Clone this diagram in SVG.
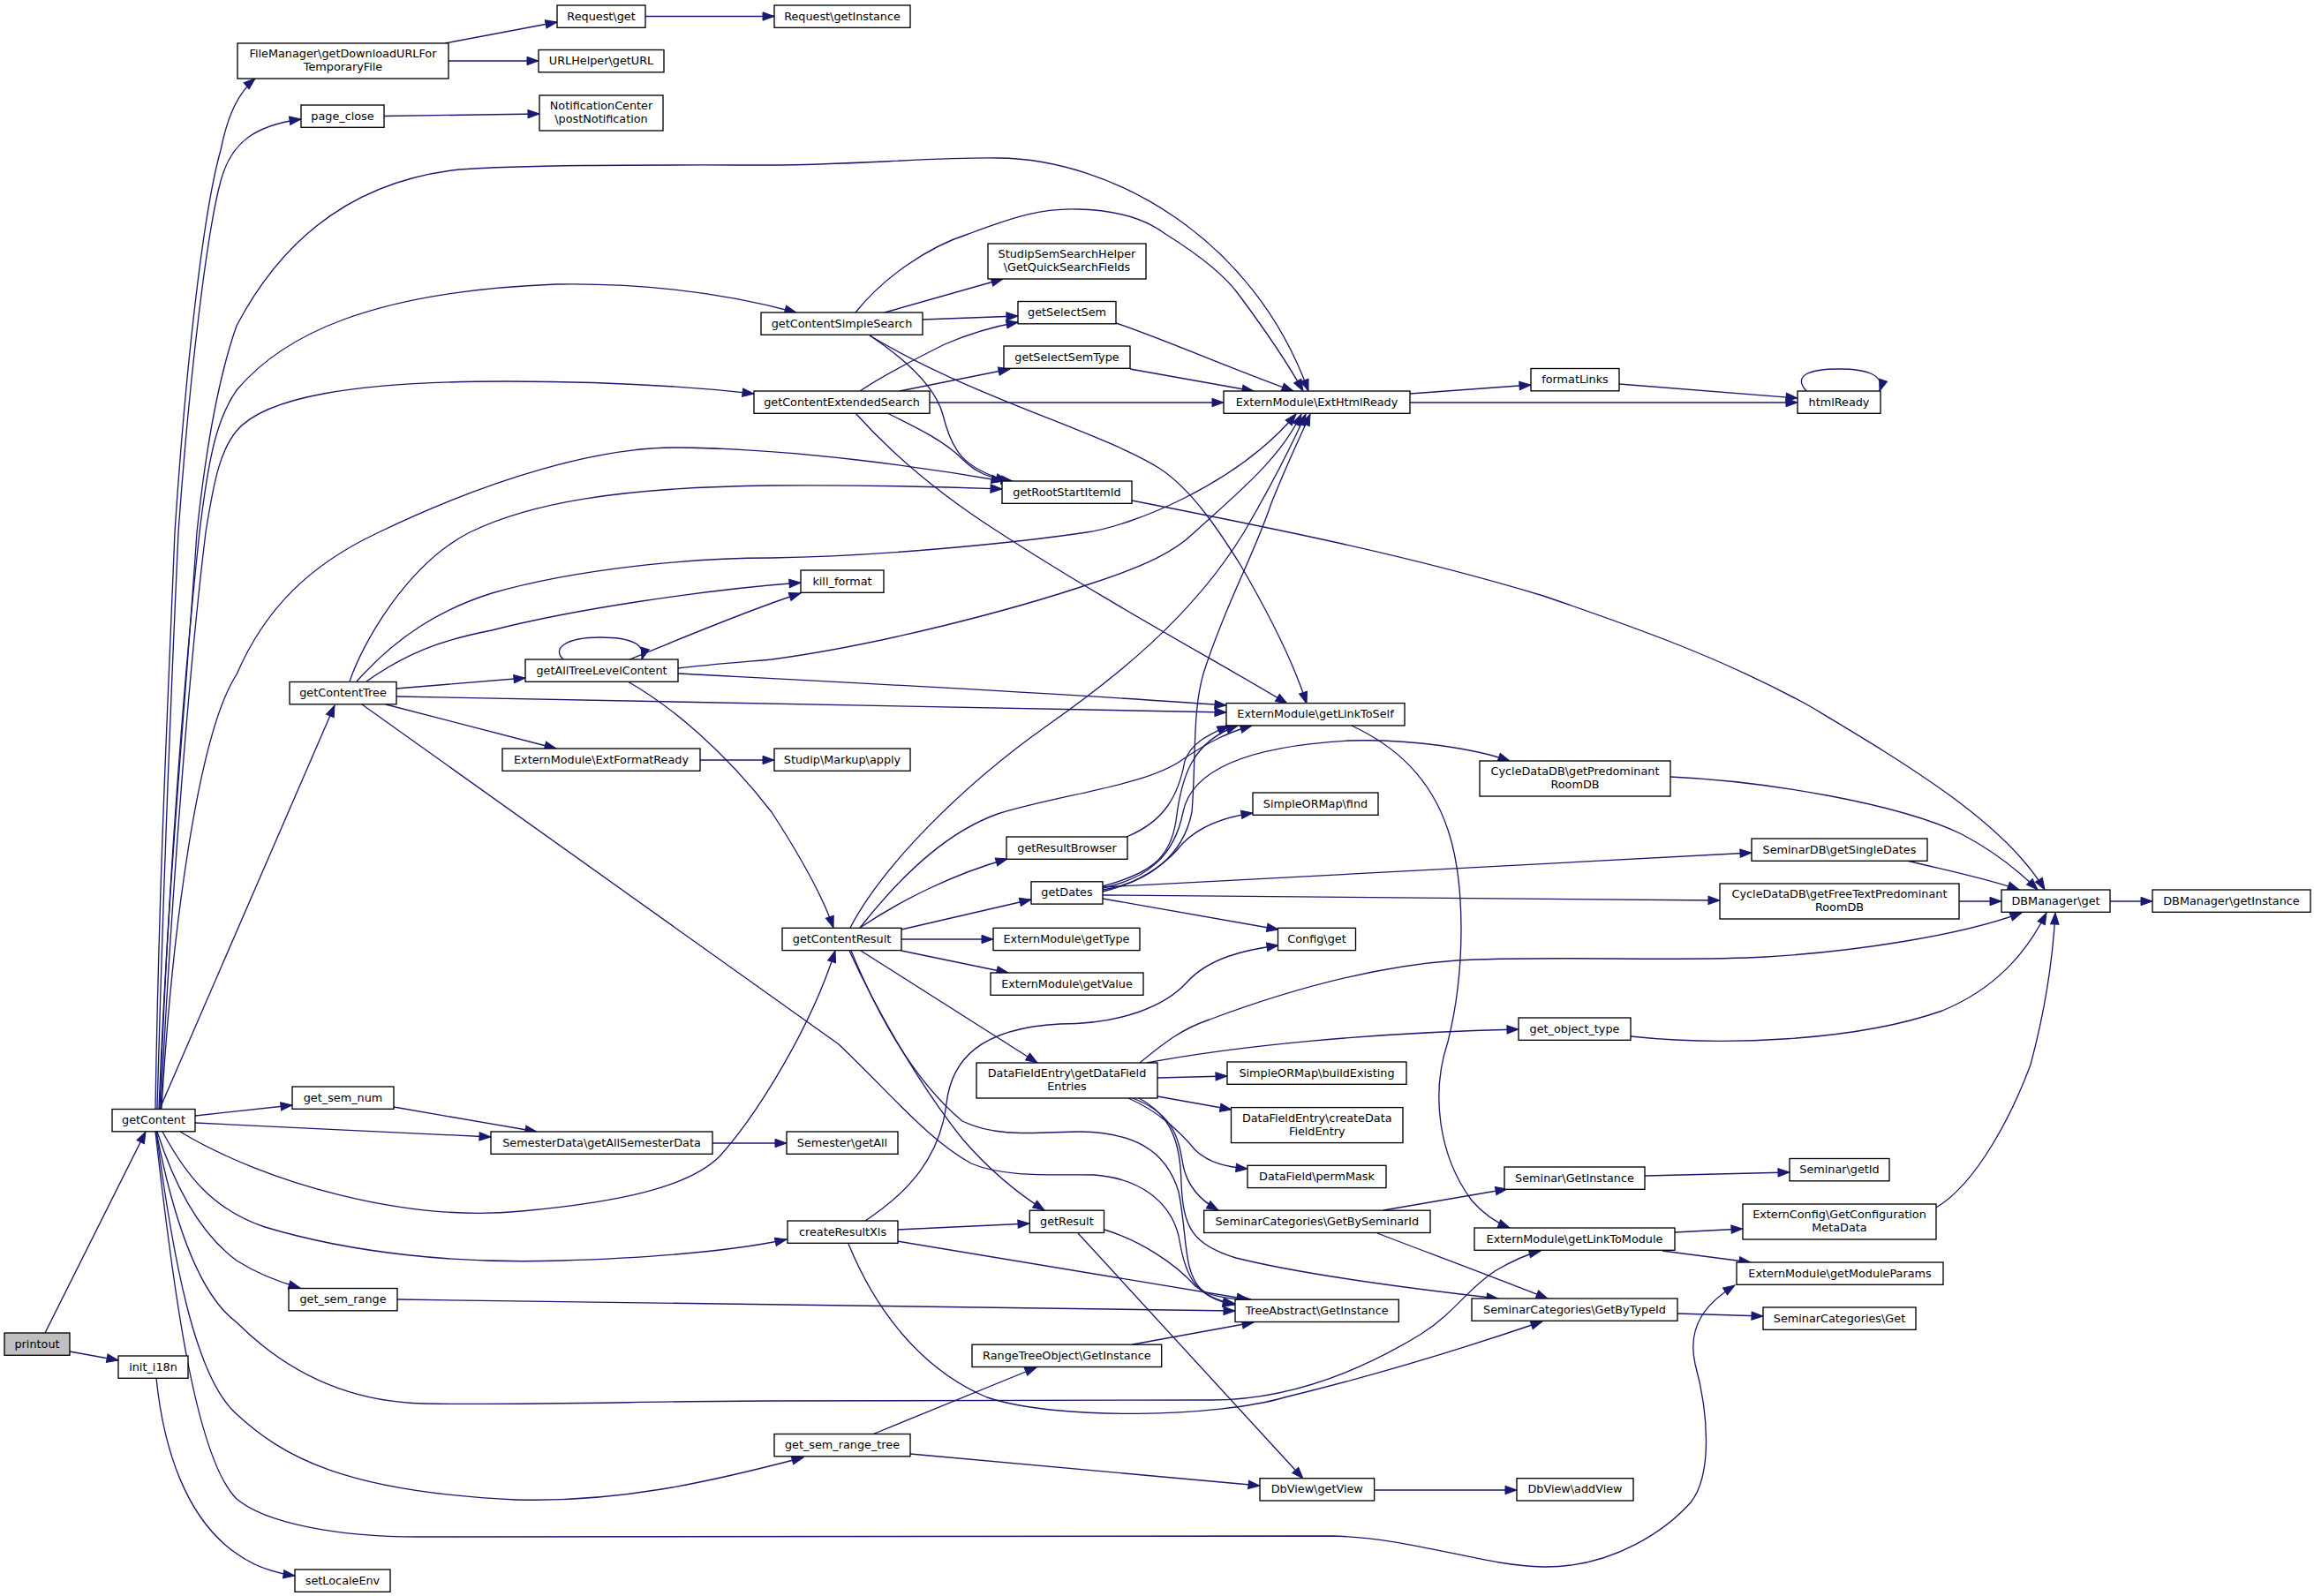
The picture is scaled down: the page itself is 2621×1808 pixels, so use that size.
<svg xmlns="http://www.w3.org/2000/svg" width="2621" height="1808" viewBox="0 0 2621 1808">
<style>
.node rect{fill:#fff;stroke:#000;stroke-width:1.33}
.node text{font-family:"DejaVu Sans","Liberation Sans",sans-serif;font-size:12.8px;text-anchor:middle;fill:#000}
.edge path{fill:none;stroke:#191970;stroke-width:1.33;marker-end:url(#arr)}
#n_printout rect{fill:#bfbfbf}
</style>
<defs>
<marker id="arr" markerUnits="userSpaceOnUse" markerWidth="14" markerHeight="10" refX="13" refY="4.7" orient="auto" viewBox="0 0 14 10" overflow="visible">
<path d="M0,0 L13,4.7 L0,9.4 z" fill="#191970" stroke="#191970" stroke-width="1"/>
</marker>
</defs>
<rect x="0" y="0" width="2621" height="1808" fill="#fff"/>
<g id="edges" class="edge">
<path d="M51,1510 L165,1282"/>
<path d="M79,1531 L134,1541"/>
<path d="M177,1561 C185,1640 210,1720 268,1760 C290,1776 312,1782 334,1785"/>
<path d="M176,1256 C180,1000 190,800 198,603 C210,420 230,240 250,170 C258,130 270,105 289,89"/>
<path d="M178,1256 C185,1000 193,800 202,603 C215,420 235,260 250,205 C262,160 290,142 341,135"/>
<path d="M180,1256 C190,1000 210,800 223,603 C235,490 250,420 268,369 C320,270 400,205 520,192 C600,186 760,187 874,187 C960,187 1060,178 1130,179 C1260,180 1420,270 1482,443"/>
<path d="M181,1256 C190,1000 210,750 226,603 C236,520 245,475 268,442 C320,380 420,330 630,322 C760,320 850,340 902,354"/>
<path d="M182,1256 C195,1000 215,750 233,603 C243,540 250,510 268,488 C300,450 400,432 574,432 C700,432 800,440 854,446"/>
<path d="M183,1256 C195,1050 225,830 268,764 C300,690 350,640 429,603 C560,540 680,507 764,507 C900,508 1050,530 1136,545"/>
<path d="M181,1256 L379,799"/>
<path d="M221,1264 L331,1252"/>
<path d="M221,1272 L556,1288"/>
<path d="M204,1282 C300,1340 460,1385 591,1372 C700,1362 780,1345 815,1310 C860,1260 920,1160 946,1077"/>
<path d="M184,1282 C210,1330 240,1370 300,1390 C400,1420 520,1432 636,1428 C760,1424 840,1415 891,1404"/>
<path d="M178,1282 C200,1350 230,1400 268,1428 C290,1442 315,1452 340,1459"/>
<path d="M177,1282 C200,1400 230,1470 268,1498 C320,1550 390,1588 480,1590 C600,1592 750,1587 874,1587 L1371,1586 C1450,1586 1530,1560 1610,1511 C1650,1485 1660,1462 1693,1440 C1710,1430 1725,1422 1745,1417"/>
<path d="M177,1282 C195,1420 220,1560 268,1602 C320,1650 390,1690 585,1699 C700,1702 800,1680 910,1651"/>
<path d="M176,1282 C195,1450 220,1650 268,1698 C300,1725 380,1741 474,1741 L1509,1740 C1600,1742 1680,1774 1748,1775 C1830,1776 1890,1730 1915,1702 C1940,1670 1935,1600 1920,1545 C1910,1500 1935,1475 1965,1456"/>
<path d="M504,49 L631,25"/>
<path d="M508,69 L610,69"/>
<path d="M435,131.5 L611,129"/>
<path d="M731,18.5 L877,18.5"/>
<path d="M969,354 C1000,315 1050,280 1097,265 C1150,245 1180,236 1220,237 C1270,238 1300,250 1320,265 C1360,290 1390,315 1404,335 C1430,370 1455,405 1476,443"/>
<path d="M1002,354 L1136,316"/>
<path d="M1045,362 L1153,358"/>
<path d="M985,380 C1030,410 1060,440 1068,470 C1078,510 1090,530 1141,545"/>
<path d="M985,380 C1100,450 1250,490 1314,531 C1350,555 1380,600 1405,640 C1440,700 1465,750 1480,797"/>
<path d="M974,443 C1000,425 1040,405 1070,390 C1100,377 1125,370 1153,365"/>
<path d="M1019,443 L1144,418"/>
<path d="M1053,456 L1386,456"/>
<path d="M1005,468 C1040,485 1070,500 1090,520 C1105,535 1120,542 1147,545"/>
<path d="M969,468 C1020,525 1080,570 1130,602 C1250,680 1380,750 1458,797"/>
<path d="M1264,366 C1320,385 1400,420 1465,443"/>
<path d="M1280,418 L1420,443"/>
<path d="M1282,567 C1450,600 1600,630 1748,675 C1850,710 1950,745 2050,800 C2150,860 2270,930 2316,1008"/>
<path d="M1597,446 L1734,436"/>
<path d="M1597,456 L2036,456"/>
<path d="M1834,435 L2036,451"/>
<path d="M2046,443 C2030,425 2050,418 2083,418 C2115,418 2135,425 2129,443"/>
<path d="M396,772 C410,730 460,640 532,603 C600,570 700,552 874,550 C1000,549 1080,552 1135,554"/>
<path d="M404,772 C450,720 500,690 557,672 C650,645 780,632 874,632 C1000,630 1150,615 1231,603 C1280,596 1400,550 1468,469"/>
<path d="M415,772 C460,740 500,725 557,714 C650,690 800,668 907,660"/>
<path d="M449,780 L595,768"/>
<path d="M449,789 L1389,807"/>
<path d="M437,798 L630,848"/>
<path d="M410,798 L950,1183 C1010,1240 1050,1290 1100,1318 C1140,1335 1200,1330 1240,1331 C1290,1335 1325,1360 1335,1400 C1342,1440 1350,1470 1398,1478"/>
<path d="M638,747 C625,735 640,722 680,722 C715,722 732,730 727,747"/>
<path d="M713,747 C780,720 850,690 907,672"/>
<path d="M768,757 C800,753 840,750 874,747 C1000,730 1150,690 1236,661 C1300,640 1330,625 1353,603 C1400,560 1450,520 1474,469"/>
<path d="M768,763 C900,770 1200,785 1389,799"/>
<path d="M711,772 C760,800 820,850 874,920 C900,960 930,1010 944,1051"/>
<path d="M793,861 L877,861"/>
<path d="M963,1051 C1000,980 1090,890 1186,822 C1260,770 1350,700 1409,603 C1440,550 1465,500 1479,469"/>
<path d="M1249,1008 C1300,1000 1340,970 1350,920 C1355,860 1350,800 1365,757 C1390,680 1420,630 1440,570 C1460,520 1475,490 1484,469"/>
<path d="M974,1051 C1030,980 1080,940 1130,922 C1200,900 1300,890 1340,860 C1370,840 1390,830 1418,822"/>
<path d="M1276,948 C1320,930 1335,900 1342,862 C1350,840 1370,832 1392,822"/>
<path d="M1249,1004 C1300,990 1325,975 1332,930 C1338,880 1350,840 1402,822"/>
<path d="M974,1051 C1020,1020 1080,990 1141,973"/>
<path d="M1021,1053 L1168,1019"/>
<path d="M1021,1064 L1125,1064"/>
<path d="M1021,1077 L1142,1102"/>
<path d="M975,1077 L1175,1204"/>
<path d="M962,1077 C1000,1160 1050,1240 1090,1290 C1120,1325 1150,1350 1183,1371"/>
<path d="M964,1077 C990,1140 1030,1220 1090,1270 C1130,1290 1180,1282 1224,1282 C1280,1283 1320,1300 1335,1350 C1345,1400 1340,1440 1360,1460 C1370,1470 1385,1475 1399,1477"/>
<path d="M1249,1010 C1290,1000 1320,980 1340,955 C1360,935 1390,925 1419,921"/>
<path d="M1249,1006 C1300,995 1330,970 1340,920 C1350,870 1420,845 1528,839 C1600,837 1670,848 1710,862"/>
<path d="M1249,1005 L1984,966"/>
<path d="M1249,1014 L1948,1020"/>
<path d="M1249,1018 L1448,1053"/>
<path d="M1291,1204 C1320,1180 1340,1165 1370,1155 C1450,1125 1550,1095 1650,1088 C1750,1082 1900,1090 2000,1084 C2100,1078 2220,1060 2290,1034"/>
<path d="M1299,1204 C1400,1185 1550,1170 1720,1166"/>
<path d="M1311,1221 L1390,1219"/>
<path d="M1311,1242 L1395,1257"/>
<path d="M1278,1244 C1310,1258 1335,1280 1354,1303 C1370,1318 1390,1322 1413,1324"/>
<path d="M1283,1244 C1330,1262 1335,1290 1340,1320 C1345,1345 1360,1360 1380,1371"/>
<path d="M1290,1244 C1330,1265 1337,1300 1338,1340 C1340,1390 1350,1410 1400,1425 C1480,1445 1600,1460 1697,1471"/>
<path d="M980,1383 C1030,1350 1065,1310 1072,1250 C1078,1200 1110,1165 1200,1160 C1270,1160 1320,1140 1345,1112 C1370,1085 1410,1076 1448,1071"/>
<path d="M1016,1393 L1166,1386"/>
<path d="M1016,1406 L1414,1472"/>
<path d="M961,1409 C990,1480 1040,1550 1118,1583 C1200,1610 1380,1605 1455,1583 C1550,1560 1650,1530 1747,1497"/>
<path d="M1251,1393 C1290,1405 1330,1430 1354,1457 C1370,1470 1395,1472 1417,1472"/>
<path d="M1221,1397 L1476,1675"/>
<path d="M1283,1523 L1420,1498"/>
<path d="M988,1625 L1174,1549"/>
<path d="M1031,1647 L1427,1683"/>
<path d="M1556,1688 L1718,1688"/>
<path d="M450,1472 L1399,1485"/>
<path d="M446,1254 L608,1282"/>
<path d="M807,1295 L891,1295"/>
<path d="M1531,822 C1580,845 1620,880 1640,940 C1660,1000 1660,1100 1640,1180 C1620,1240 1630,1310 1667,1360 C1680,1375 1695,1385 1710,1391"/>
<path d="M1567,1371 L1707,1347"/>
<path d="M1560,1397 C1620,1420 1700,1450 1753,1471"/>
<path d="M1897,1396 L1974,1392"/>
<path d="M1883,1417 L1983,1430"/>
<path d="M1900,1488 L1997,1491"/>
<path d="M1863,1332 L2027,1328"/>
<path d="M1847,1174 C1950,1185 2100,1180 2200,1145 C2260,1120 2295,1080 2318,1034"/>
<path d="M2193,1368 C2240,1340 2280,1260 2300,1206 C2315,1150 2325,1090 2328,1034"/>
<path d="M1892,880 C2000,885 2150,910 2222,945 C2260,965 2290,990 2308,1008"/>
<path d="M2160,975 C2200,985 2250,995 2287,1008"/>
<path d="M2219,1021 L2267,1021"/>
<path d="M2390,1021 L2438,1021"/>
</g>
<g id="n_printout" class="node"><rect x="5" y="1510" width="74" height="25.3"/><text x="42" y="1526.6">printout</text></g>
<g id="n_getContent" class="node"><rect x="127" y="1256.5" width="94" height="25.3"/><text x="174" y="1273.1">getContent</text></g>
<g id="n_init_i18n" class="node"><rect x="134" y="1536" width="79" height="25.3"/><text x="173.5" y="1552.6">init_i18n</text></g>
<g id="n_setLocaleEnv" class="node"><rect x="334" y="1778" width="108" height="25.3"/><text x="388" y="1794.6">setLocaleEnv</text></g>
<g id="n_FileManager" class="node"><rect x="269" y="49" width="239" height="40"/><text x="388.5" y="65">FileManager\getDownloadURLFor</text><text x="388.5" y="80">TemporaryFile</text></g>
<g id="n_page_close" class="node"><rect x="341" y="119" width="94" height="25.3"/><text x="388" y="135.6">page_close</text></g>
<g id="n_Request_get" class="node"><rect x="631" y="6" width="100" height="25.3"/><text x="681" y="22.6">Request\get</text></g>
<g id="n_URLHelper" class="node"><rect x="610" y="56.5" width="142" height="25.3"/><text x="681" y="73.1">URLHelper\getURL</text></g>
<g id="n_Notification" class="node"><rect x="611" y="108" width="140" height="40"/><text x="681" y="124">NotificationCenter</text><text x="681" y="139">\postNotification</text></g>
<g id="n_Request_getInstance" class="node"><rect x="877" y="6" width="154" height="25.3"/><text x="954" y="22.6">Request\getInstance</text></g>
<g id="n_getContentSimpleSearch" class="node"><rect x="862" y="354" width="183" height="25.3"/><text x="953.5" y="370.6">getContentSimpleSearch</text></g>
<g id="n_getContentExtendedSearch" class="node"><rect x="854" y="443" width="199" height="25.3"/><text x="953.5" y="459.6">getContentExtendedSearch</text></g>
<g id="n_StudipSemSearchHelper" class="node"><rect x="1119" y="276" width="179" height="40"/><text x="1208.5" y="292">StudipSemSearchHelper</text><text x="1208.5" y="307">\GetQuickSearchFields</text></g>
<g id="n_getSelectSem" class="node"><rect x="1153" y="341.5" width="111" height="25.3"/><text x="1208.5" y="358.1">getSelectSem</text></g>
<g id="n_getSelectSemType" class="node"><rect x="1137" y="392" width="143" height="25.3"/><text x="1208.5" y="408.6">getSelectSemType</text></g>
<g id="n_ExtHtmlReady" class="node"><rect x="1386" y="443" width="211" height="25.3"/><text x="1491.5" y="459.6">ExternModule\ExtHtmlReady</text></g>
<g id="n_getRootStartItemId" class="node"><rect x="1135" y="545" width="147" height="25.3"/><text x="1208.5" y="561.6">getRootStartItemId</text></g>
<g id="n_formatLinks" class="node"><rect x="1734" y="417.5" width="100" height="25.3"/><text x="1784" y="434.1">formatLinks</text></g>
<g id="n_htmlReady" class="node"><rect x="2036" y="443" width="94" height="25.3"/><text x="2083" y="459.6">htmlReady</text></g>
<g id="n_getContentTree" class="node"><rect x="328" y="772.5" width="121" height="25.3"/><text x="388.5" y="789.1">getContentTree</text></g>
<g id="n_getAllTreeLevelContent" class="node"><rect x="595" y="747" width="173" height="25.3"/><text x="681.5" y="763.6">getAllTreeLevelContent</text></g>
<g id="n_kill_format" class="node"><rect x="907" y="646" width="94" height="25.3"/><text x="954" y="662.6">kill_format</text></g>
<g id="n_ExtFormatReady" class="node"><rect x="569" y="848" width="224" height="25.3"/><text x="681" y="864.6">ExternModule\ExtFormatReady</text></g>
<g id="n_MarkupApply" class="node"><rect x="877" y="848" width="154" height="25.3"/><text x="954" y="864.6">Studip\Markup\apply</text></g>
<g id="n_getLinkToSelf" class="node"><rect x="1389" y="796.6" width="202" height="25.3"/><text x="1490" y="813.2">ExternModule\getLinkToSelf</text></g>
<g id="n_getPredominantRoomDB" class="node"><rect x="1676" y="862" width="216" height="40"/><text x="1784" y="878">CycleDataDB\getPredominant</text><text x="1784" y="893">RoomDB</text></g>
<g id="n_SimpleORMap_find" class="node"><rect x="1419" y="898" width="142" height="25.3"/><text x="1490" y="914.6">SimpleORMap\find</text></g>
<g id="n_getResultBrowser" class="node"><rect x="1140" y="948" width="137" height="25.3"/><text x="1208.5" y="964.6">getResultBrowser</text></g>
<g id="n_getDates" class="node"><rect x="1168" y="998.8" width="81" height="25.3"/><text x="1208.5" y="1015.4">getDates</text></g>
<g id="n_getContentResult" class="node"><rect x="886" y="1051.3" width="135" height="25.3"/><text x="953.5" y="1067.9">getContentResult</text></g>
<g id="n_getType" class="node"><rect x="1125" y="1051.3" width="166" height="25.3"/><text x="1208" y="1067.9">ExternModule\getType</text></g>
<g id="n_Config_get" class="node"><rect x="1447.5" y="1051.3" width="88" height="25.3"/><text x="1491.5" y="1067.9">Config\get</text></g>
<g id="n_getValue" class="node"><rect x="1122" y="1102" width="173" height="25.3"/><text x="1208.5" y="1118.6">ExternModule\getValue</text></g>
<g id="n_get_object_type" class="node"><rect x="1720" y="1153" width="127" height="25.3"/><text x="1783.5" y="1169.6">get_object_type</text></g>
<g id="n_getDataFieldEntries" class="node"><rect x="1106" y="1204" width="205" height="40"/><text x="1208.5" y="1220">DataFieldEntry\getDataField</text><text x="1208.5" y="1235">Entries</text></g>
<g id="n_buildExisting" class="node"><rect x="1390" y="1203" width="203" height="25.3"/><text x="1491.5" y="1219.6">SimpleORMap\buildExisting</text></g>
<g id="n_createDataFieldEntry" class="node"><rect x="1394.5" y="1254.6" width="194.5" height="40"/><text x="1491.75" y="1270.6">DataFieldEntry\createData</text><text x="1491.75" y="1285.6">FieldEntry</text></g>
<g id="n_permMask" class="node"><rect x="1413" y="1320.3" width="157" height="25.3"/><text x="1491.5" y="1336.9">DataField\permMask</text></g>
<g id="n_GetBySeminarId" class="node"><rect x="1363.7" y="1371.2" width="256.3" height="25.3"/><text x="1491.85" y="1387.8">SeminarCategories\GetBySeminarId</text></g>
<g id="n_getAllSemesterData" class="node"><rect x="556" y="1282" width="251" height="25.3"/><text x="681.5" y="1298.6">SemesterData\getAllSemesterData</text></g>
<g id="n_Semester_getAll" class="node"><rect x="891" y="1282" width="126" height="25.3"/><text x="954" y="1298.6">Semester\getAll</text></g>
<g id="n_get_sem_num" class="node"><rect x="331" y="1231" width="115" height="25.3"/><text x="388.5" y="1247.6">get_sem_num</text></g>
<g id="n_createResultXls" class="node"><rect x="892" y="1383" width="125" height="25.3"/><text x="954.5" y="1399.6">createResultXls</text></g>
<g id="n_getResult" class="node"><rect x="1166.3" y="1371.2" width="84.2" height="25.3"/><text x="1208.4" y="1387.8">getResult</text></g>
<g id="n_TreeAbstract" class="node"><rect x="1399" y="1472.2" width="185.3" height="25.3"/><text x="1491.65" y="1488.8">TreeAbstract\GetInstance</text></g>
<g id="n_RangeTreeObject" class="node"><rect x="1101" y="1523.2" width="214.7" height="25.3"/><text x="1208.35" y="1539.8">RangeTreeObject\GetInstance</text></g>
<g id="n_get_sem_range" class="node"><rect x="327" y="1459.5" width="123" height="25.3"/><text x="388.5" y="1476.1">get_sem_range</text></g>
<g id="n_get_sem_range_tree" class="node"><rect x="877" y="1624.5" width="154" height="25.3"/><text x="954" y="1641.1">get_sem_range_tree</text></g>
<g id="n_DbView_getView" class="node"><rect x="1427" y="1674.7" width="129.6" height="25.3"/><text x="1491.8" y="1691.3">DbView\getView</text></g>
<g id="n_DbView_addView" class="node"><rect x="1718" y="1674.7" width="132" height="25.3"/><text x="1784" y="1691.3">DbView\addView</text></g>
<g id="n_Seminar_GetInstance" class="node"><rect x="1704" y="1322" width="159" height="25.3"/><text x="1783.5" y="1338.6">Seminar\GetInstance</text></g>
<g id="n_getLinkToModule" class="node"><rect x="1670" y="1391" width="227" height="25.3"/><text x="1783.5" y="1407.6">ExternModule\getLinkToModule</text></g>
<g id="n_GetByTypeId" class="node"><rect x="1667" y="1471" width="233" height="25.3"/><text x="1783.5" y="1487.6">SeminarCategories\GetByTypeId</text></g>
<g id="n_getSingleDates" class="node"><rect x="1984" y="950" width="199" height="25.3"/><text x="2083.5" y="966.6">SeminarDB\getSingleDates</text></g>
<g id="n_getFreeText" class="node"><rect x="1948" y="1001" width="271" height="40"/><text x="2083.5" y="1017">CycleDataDB\getFreeTextPredominant</text><text x="2083.5" y="1032">RoomDB</text></g>
<g id="n_DBManager_get" class="node"><rect x="2267" y="1008" width="123" height="25.3"/><text x="2328.5" y="1024.6">DBManager\get</text></g>
<g id="n_DBManager_getInstance" class="node"><rect x="2438" y="1008" width="179" height="25.3"/><text x="2527.5" y="1024.6">DBManager\getInstance</text></g>
<g id="n_Seminar_getId" class="node"><rect x="2027" y="1312.5" width="113" height="25.3"/><text x="2083.5" y="1329.1">Seminar\getId</text></g>
<g id="n_ExternConfig" class="node"><rect x="1974" y="1364" width="219" height="40"/><text x="2083.5" y="1380">ExternConfig\GetConfiguration</text><text x="2083.5" y="1395">MetaData</text></g>
<g id="n_getModuleParams" class="node"><rect x="1967" y="1430" width="234" height="25.3"/><text x="2084" y="1446.6">ExternModule\getModuleParams</text></g>
<g id="n_SeminarCategories_Get" class="node"><rect x="1997" y="1481" width="173" height="25.3"/><text x="2083.5" y="1497.6">SeminarCategories\Get</text></g>
</svg>
